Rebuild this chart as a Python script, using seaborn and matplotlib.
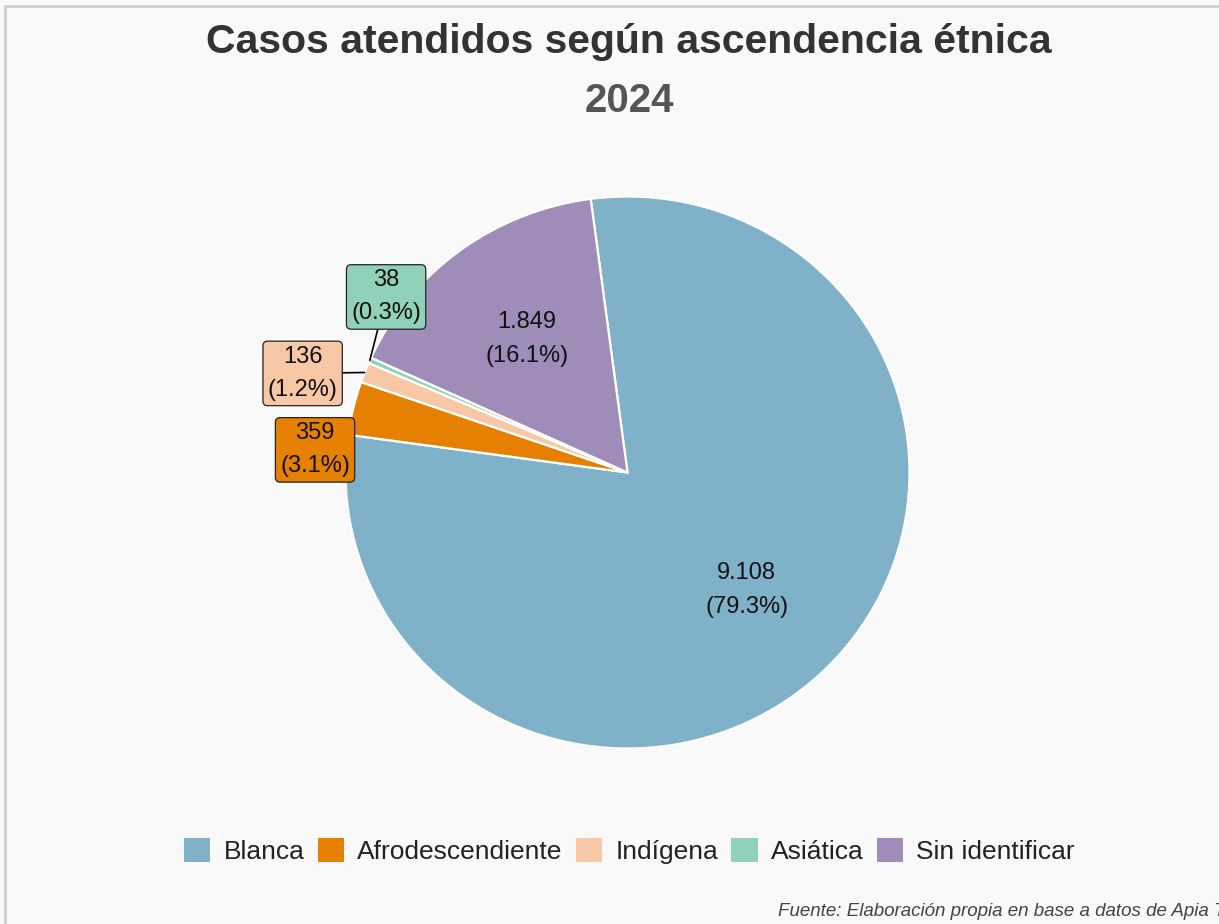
import numpy as np
import matplotlib
matplotlib.use("Agg")
import matplotlib.pyplot as plt
import seaborn as sns
from matplotlib.patches import Rectangle

categorias = ["Blanca", "Afrodescendiente", "Indígena", "Asiática", "Sin identificar"]
casos = [9108, 359, 136, 38, 1849]
colores = ["#7FB1C8", "#E68000", "#F8C7A5", "#8FD1B9", "#A08CB8"]

titulo = "Casos atendidos según ascendencia étnica"
subtitulo = "2024"
fuente = "Fuente: Elaboración propia en base a datos de Apia Tech"

sns.set_theme(style="white")
plt.rcParams["font.family"] = ["Liberation Sans", "DejaVu Sans"]

bg = "#F9F9F9"
fig = plt.figure(figsize=(12.19, 9.24), dpi=100, facecolor=bg)

# axes centred on the pie (centre ~ (627, 472) px, slightly wider than tall)
W, H = 1219, 924
RX, RY = 282, 276
L = 1.35
cx, cy = 627.5, H - 472.5
ax = fig.add_axes([(cx - L * RX) / W, (cy - L * RY) / H, 2 * L * RX / W, 2 * L * RY / H])
ax.set_facecolor(bg)

total = sum(casos)
pct = [c / total * 100 for c in casos]

wedges, _ = ax.pie(casos, colors=colores, startangle=97.5, counterclock=False,
                   radius=1, wedgeprops=dict(edgecolor="white", linewidth=1.6))
ax.set_xlim(-L, L)
ax.set_ylim(-L, L)
ax.set_aspect("auto")
ax.axis("off")


def fmt_num(n):
    return f"{n:,}".replace(",", ".")


def etiqueta(i):
    return f"{fmt_num(casos[i])}\n({pct[i]:.1f}%)"


# labels inside the big slices
for i in [0, 4]:
    w = wedges[i]
    ang = np.deg2rad((w.theta1 + w.theta2) / 2)
    ax.text(0.6 * np.cos(ang), 0.6 * np.sin(ang), etiqueta(i), ha="center", va="center",
            fontsize=17, color="#111111", linespacing=1.7)

# repelled boxed labels for the small slices
pos_caja = {1: (-1.108, 0.082), 2: (-1.152, 0.359), 3: (-0.856, 0.636)}
for i, (tx, ty) in pos_caja.items():
    w = wedges[i]
    ang = np.deg2rad((w.theta1 + w.theta2) / 2)
    caja = dict(boxstyle="round,pad=0.2,rounding_size=0.2", facecolor=colores[i],
                edgecolor="#222222", linewidth=0.9)
    if i == 1:
        ax.text(tx, ty, etiqueta(i), ha="center", va="center", fontsize=17,
                color="#111111", linespacing=1.65, bbox=caja)
    else:
        ax.annotate(etiqueta(i), xy=(np.cos(ang), np.sin(ang)), xytext=(tx, ty),
                    ha="center", va="center", fontsize=17, color="#111111",
                    linespacing=1.65, bbox=caja,
                    arrowprops=dict(arrowstyle="-", color="black", lw=1.2,
                                    shrinkA=0, shrinkB=0))

fig.text(0.516, 1 - 42 / H, titulo, ha="center", va="center", fontsize=29.5,
         fontweight="bold", color="#333333")
fig.text(0.516, 1 - 101 / H, subtitulo, ha="center", va="center", fontsize=29,
         fontweight="bold", color="#555555")

handles = [plt.Rectangle((0, 0), 1, 1, facecolor=c, edgecolor="none") for c in colores]
fig.legend(handles, categorias, loc="center", bbox_to_anchor=(629.5 / W, 1 - 851 / H),
           ncol=5, frameon=False, fontsize=19, handlelength=1.0, handleheight=1.0,
           handletextpad=0.5, columnspacing=0.5, labelcolor="#222222")

fig.text(778 / W, 1 - 912 / H, fuente, ha="left", va="center", fontsize=13.5,
         style="italic", color="#444444")

fig.add_artist(Rectangle((5 / W, -0.1), 1.2, (H - 6) / H + 0.1, transform=fig.transFigure,
                         fill=False, edgecolor="#CFCFCF", linewidth=2))

fig.savefig("out.png", dpi=100, facecolor=bg)
